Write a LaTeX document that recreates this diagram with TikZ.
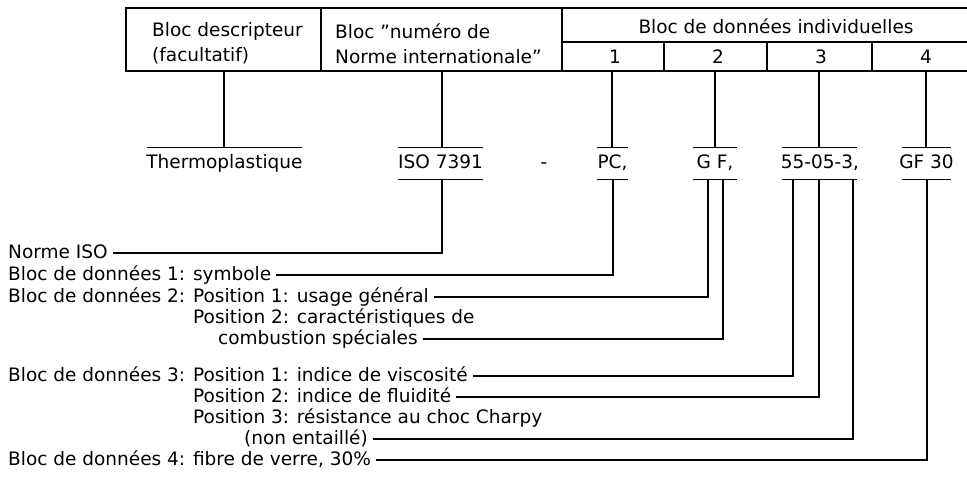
\documentclass[tikz,border=0pt]{standalone}
\usepackage{fontspec}
\setmainfont{DejaVu Sans}
\begin{document}
\begin{tikzpicture}[x=1pt,y=-1pt,
  every node/.style={font=\fontsize{18.5}{25}\selectfont, inner sep=0pt},
  lab/.style={anchor=west, text height=14pt, text depth=3pt},
  code/.style={minimum height=31pt, text height=14pt, text depth=3pt},
  ln/.style={line width=1.3pt, black}]
\useasboundingbox (0,0) rectangle (967,500);
% table
\draw[ln] (967,8) -- (126,8) -- (126,71) -- (967,71);
\draw[ln] (321,8) -- (321,71);
\draw[ln] (562,8) -- (562,71);
\draw[ln] (562,42) -- (967,42);
\draw[ln] (664,42) -- (664,71);
\draw[ln] (767,42) -- (767,71);
\draw[ln] (872,42) -- (872,71);
\node[anchor=west, align=left] (desc) at (152,43.5) {Bloc descripteur\\(facultatif)};
\node[anchor=west, align=left] (norme) at (335,43.5) {Bloc "numéro de\\Norme internationale"};
\node (donnees) at (776,26) {Bloc de données individuelles};
\node (n1) at (615,57) {1};
\node (n2) at (718,57) {2};
\node (n3) at (821,57) {3};
\node (n4) at (926,57) {4};
% codes
\node[code, minimum width=155pt] (thermo) at (224.5,163.5) {Thermoplastique};
\node[code, minimum width=85pt] (iso) at (440.5,163.5) {ISO 7391};
\node[code] (dash) at (544,163.5) {-};
\node[code, minimum width=31pt] (pc) at (612.5,163.5) {PC,};
\node[code, minimum width=44pt] (gf) at (715,163.5) {G F,};
\node[code] (cinq) at (820,163.5) {55-05-3,};
\node[code] (gft) at (926.5,163.5) {GF 30};
% over/under lines
\draw[ln] ([xshift=-77.5pt]thermo.north) -- ([xshift=77.5pt]thermo.north);
\foreach \n/\w in {iso/42.5, pc/15.5, gf/22, gft/24.5}{
  \draw[ln] ([xshift=-\w pt]\n.north) -- ([xshift=\w pt]\n.north);
  \draw[ln] ([xshift=-\w pt]\n.south) -- ([xshift=\w pt]\n.south);
}
\draw[ln] ([xshift=-38pt]cinq.north) -- ([xshift=37pt]cinq.north);
\draw[ln] ([xshift=-38pt]cinq.south) -- ([xshift=37pt]cinq.south);
% upper connectors
\coordinate (t1) at (224,71);
\coordinate (t2) at (442,71);
\coordinate (t3) at (612,71);
\coordinate (t4) at (715,71);
\coordinate (t5) at (819,71);
\coordinate (t6) at (926,71);
\draw[ln] (t1) -- (t1 |- thermo.north);
\draw[ln] (t2) -- (t2 |- iso.north);
\draw[ln] (t3) -- (t3 |- pc.north);
\draw[ln] (t4) -- (t4 |- gf.north);
\draw[ln] (t5) -- (t5 |- cinq.north);
\draw[ln] (t6) -- (t6 |- gft.north);
% lower attach points
\coordinate (b1) at ([xshift=1.5pt]iso.south);
\coordinate (b2) at ([xshift=0.5pt]pc.south);
\coordinate (b3) at ([xshift=-7pt]gf.south);
\coordinate (b4) at ([xshift=8pt]gf.south);
\coordinate (b5) at ([xshift=-27pt]cinq.south);
\coordinate (b6) at ([xshift=-1pt]cinq.south);
\coordinate (b7) at ([xshift=33pt]cinq.south);
\coordinate (b8) at ([xshift=0.5pt]gft.south);
% labels
\node[lab] (l1) at (8,253) {Norme ISO};
\node[lab] (l2) at (8,275) {Bloc de données 1: symbole};
\node[lab] (l3) at (8,297) {Bloc de données 2: Position 1: usage général};
\node[lab] (l4a) at (193,318) {Position 2: caractéristiques de};
\node[lab] (l4) at (218,339) {combustion spéciales};
\node[lab] (l5) at (8,376) {Bloc de données 3: Position 1: indice de viscosité};
\node[lab] (l6) at (193,397) {Position 2: indice de fluidité};
\node[lab] (l7a) at (193,418) {Position 3: résistance au choc Charpy};
\node[lab] (l7) at (244,439) {(non entaillé)};
\node[lab] (l8) at (8,460) {Bloc de données 4: fibre de verre, 30\%};
% lower connectors
\draw[ln] ([xshift=5pt]l1.east) -| (b1);
\draw[ln] ([xshift=5pt]l2.east) -| (b2);
\draw[ln] ([xshift=5pt]l3.east) -| (b3);
\draw[ln] ([xshift=5pt]l4.east) -| (b4);
\draw[ln] ([xshift=5pt]l5.east) -| (b5);
\draw[ln] ([xshift=5pt]l6.east) -| (b6);
\draw[ln] ([xshift=5pt]l7.east) -| (b7);
\draw[ln] ([xshift=5pt]l8.east) -| (b8);
\end{tikzpicture}
\end{document}
